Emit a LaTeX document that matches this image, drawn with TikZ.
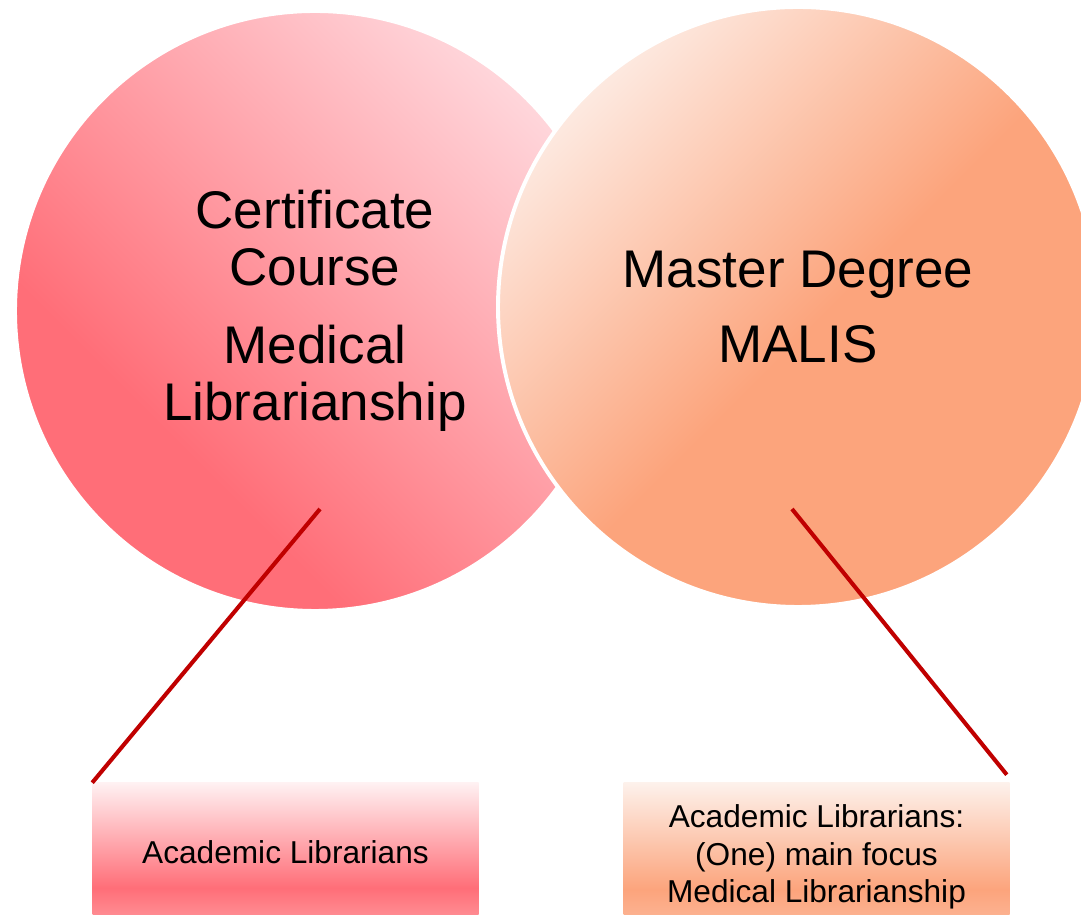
\documentclass[tikz,border=0pt]{standalone}
\usepackage{fontspec}
\setmainfont{Liberation Sans}

\definecolor{certlight}{RGB}{255,214,219}
\definecolor{certdark}{RGB}{255,110,120}
\definecolor{certtop}{RGB}{255,241,242}
\definecolor{certlow}{RGB}{255,140,146}
\definecolor{maslight}{RGB}{253,233,224}
\definecolor{masdark}{RGB}{252,164,124}
\definecolor{mastop}{RGB}{253,241,235}
\definecolor{maslow}{RGB}{252,178,145}
\definecolor{linkred}{RGB}{192,0,0}

\pgfdeclareverticalshading{certdisc}{100bp}{color(0bp)=(certdark); color(34bp)=(certdark); color(75bp)=(certlight); color(100bp)=(certlight)}
\pgfdeclareverticalshading{masdisc}{100bp}{color(0bp)=(masdark); color(48bp)=(masdark); color(75bp)=(maslight); color(100bp)=(maslight)}
\pgfdeclareverticalshading{certbar}{100bp}{color(0bp)=(certlow); color(27bp)=(certlow); color(37bp)=(certdark); color(75bp)=(certtop); color(100bp)=(certtop)}
\pgfdeclareverticalshading{masbar}{100bp}{color(0bp)=(maslow); color(30bp)=(maslow); color(39bp)=(masdark); color(75bp)=(mastop); color(100bp)=(mastop)}

\tikzset{
  disc/.style={circle, minimum size=15cm, draw=white, line width=2.8pt, shade, align=center,
    font=\fontsize{37.7}{40.5}\selectfont},
  tag/.style={rectangle, minimum width=9.65cm, shade, align=center,
    font=\fontsize{22.5}{26.7}\selectfont},
  link/.style={draw=linkred, line width=2.9pt}
}

\begin{document}
\begin{tikzpicture}
        \useasboundingbox (0, 0) rectangle (27.025, 22.875);

        % Circles
        \node (cert) [disc, shading=certdisc, shading angle=-45]
            at (7.875, 15.1) {Certificate\\Course\\[15pt]Medical\\Librarianship};
        \node (master) [disc, shading=masdisc, shading angle=45]
            at (19.95, 15.2) {Master Degree\\[13pt]MALIS};

        % Boxes (their lower edge runs off the page)
        \node (certtag) [tag, shading=certbar, minimum height=3.45cm] at (7.1375, 1.575) {Academic Librarians};
        \node (mastertag) [tag, shading=masbar, minimum height=3.7cm] at (20.4125, 1.45)
            {Academic Librarians:\\(One) main focus\\Medical Librarianship};

        % Edges
        \coordinate (certpin) at (8.0, 10.15);
        \coordinate (masterpin) at (19.8, 10.15);
        \draw[link] (certpin) -- (certtag.north west);
        \draw[link] (masterpin) -- ([shift={(-0.075, 0.2)}]mastertag.north east);
    \end{tikzpicture}
\end{document}
